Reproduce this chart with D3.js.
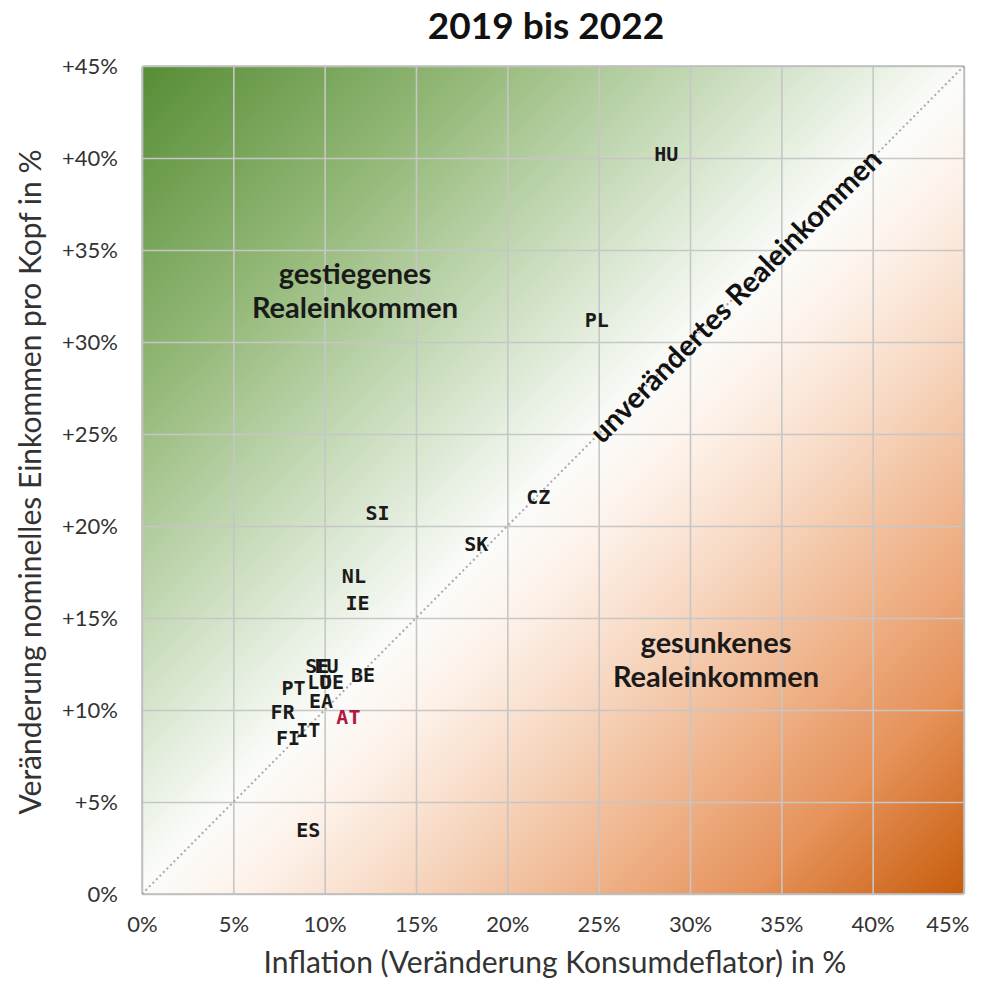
<!DOCTYPE html>
<html>
<head>
<meta charset="utf-8">
<script src="https://cdn.jsdelivr.net/npm/d3@7"></script>
<style>
  body { margin: 0; background: #fff; }
  svg { font-family: Lato, "Open Sans", sans-serif; }
  .tick text { fill: #333; font-size: 22px; }
  .lbl { font-family: "DejaVu Sans Mono", monospace; font-weight: bold; font-size: 20px; }
</style>
</head>
<body>
<svg width="989" height="981"></svg>
<script>
var countries = ["HU", "PL", "CZ", "SK", "SI", "NL", "IE", "BE", "SE", "EU", "LU", "DE", "PT", "EA", "FR", "AT", "IT", "FI", "ES"];
var inflation = [28.7, 24.9, 21.7, 18.3, 12.9, 11.6, 11.8, 12.1, 9.6, 10.1, 9.7, 10.4, 8.3, 9.8, 7.7, 11.3, 9.1, 8.0, 9.1];   //x, %
var income    = [40.2, 31.2, 21.6, 19.0, 20.7, 17.3, 15.8, 11.9, 12.4, 12.4, 11.5, 11.5, 11.2, 10.5, 9.9, 9.6, 8.9, 8.5, 3.5];   //y, %
var tickValues = [0, 5, 10, 15, 20, 25, 30, 35, 40, 45];

var svg = d3.select('svg');
var padding = {t: 66, r: 25, b: 87, l: 142};
var svgWidth = +svg.attr('width');
var svgHeight = +svg.attr('height');

var xScale = d3.scaleLinear().domain([0, 45]).range([padding.l, svgWidth - padding.r]);
var yScale = d3.scaleLinear().domain([0, 45]).range([svgHeight - padding.b, padding.t]);

//background gradient green -> white -> orange
var defs = svg.append('defs');
var grad = defs.append('linearGradient')
    .attr('id', 'bg')
    .attr('gradientUnits', 'userSpaceOnUse')
    .attr('x1', xScale(0)).attr('y1', yScale(45))
    .attr('x2', xScale(45)).attr('y2', yScale(0));
[[0, '#578d36'], [0.2, '#93b877'], [0.4, '#d8e6cf'], [0.5, '#fbfcfa'], [0.56, '#fdf2ea'], [0.64, '#f8dcc8'], [0.74, '#f1bc98'], [0.87, '#e6925a'], [1, '#c75c0c']]
    .forEach(function(s) {
        grad.append('stop').attr('offset', s[0]).attr('stop-color', s[1]);
    });

svg.append('rect')
    .attr('x', xScale(0)).attr('y', yScale(45))
    .attr('width', xScale(45) - xScale(0))
    .attr('height', yScale(0) - yScale(45))
    .attr('fill', 'url(#bg)');

//grid lines
var gridX = svg.append('g')
    .attr('transform', 'translate(0,' + yScale(0) + ')')
    .call(d3.axisBottom(xScale).tickValues(tickValues).tickSize(-(yScale(0) - yScale(45))).tickFormat(''));
var gridY = svg.append('g')
    .attr('transform', 'translate(' + xScale(0) + ',0)')
    .call(d3.axisLeft(yScale).tickValues(tickValues).tickSize(-(xScale(45) - xScale(0))).tickFormat(''));
[gridX, gridY].forEach(function(g) {
    g.select('.domain').remove();
    g.selectAll('line').attr('stroke', '#c6c6c6').attr('stroke-width', 1.6);
});

svg.append('rect')
    .attr('x', xScale(0)).attr('y', yScale(45))
    .attr('width', xScale(45) - xScale(0))
    .attr('height', yScale(0) - yScale(45))
    .attr('rx', 3)
    .attr('fill', 'none')
    .attr('stroke', '#bdbdbd')
    .attr('stroke-width', 1.5);

//tick labels
var xAxis = svg.append('g')
    .attr('transform', 'translate(0,' + yScale(0) + ')')
    .call(d3.axisBottom(xScale).tickValues(tickValues).tickSize(0).tickPadding(22).tickFormat(d => d + '%'));
var yAxis = svg.append('g')
    .attr('transform', 'translate(' + xScale(0) + ',0)')
    .call(d3.axisLeft(yScale).tickValues(tickValues).tickSize(0).tickPadding(24).tickFormat(d => d == 0 ? '0%' : '+' + d + '%'));
xAxis.select('.domain').remove();
yAxis.select('.domain').remove();
svg.selectAll('.tick text').attr('font-family', 'Lato, sans-serif');
//last x label is pulled inside the picture
xAxis.selectAll('.tick text').filter(d => d == 45).attr('text-anchor', 'end').attr('x', 5);

//diagonal: unchanged real income
svg.append('line')
    .attr('x1', xScale(0)).attr('y1', yScale(0))
    .attr('x2', xScale(45)).attr('y2', yScale(45))
    .attr('stroke', '#aaa')
    .attr('stroke-width', 2)
    .attr('stroke-dasharray', '2,3');

var angle = Math.atan2(yScale(45) - yScale(0), xScale(45) - xScale(0)) * 180 / Math.PI;
svg.append('text')
    .attr('transform', 'translate(' + [xScale(32.5), yScale(32.5)] + ') rotate(' + angle + ')')
    .attr('text-anchor', 'middle')
    .attr('dy', '0.35em')
    .attr('font-size', 29)
    .attr('font-weight', 'bold')
    .attr('fill', '#111')
    .text('unverändertes Realeinkommen');

//region labels
function regionLabel(cx, lines, y0) {
    svg.append('text')
        .attr('text-anchor', 'middle')
        .attr('font-size', 29)
        .attr('font-weight', 'bold')
        .attr('fill', '#1a1a1a')
        .selectAll('tspan').data(lines).enter()
        .append('tspan')
        .attr('x', cx)
        .attr('y', function(d, i) { return y0 + i * 34; })
        .text(function(d) { return d; });
}
regionLabel(355, ['gestiegenes', 'Realeinkommen'], 284);
regionLabel(716, ['gesunkenes', 'Realeinkommen'], 653);

//country labels
svg.append('g').selectAll('text')
    .data(countries)
    .enter()
    .append('text')
    .attr('class', 'lbl')
    .attr('x', function(d, i) { return xScale(inflation[i]); })
    .attr('y', function(d, i) { return yScale(income[i]); })
    .attr('text-anchor', 'middle')
    .attr('dominant-baseline', 'central')
    .attr('fill', function(d) { return d == 'AT' ? '#b0173f' : '#1a1a1a'; })
    .text(function(d) { return d; });

//titles
svg.append('text')
    .attr('x', 546).attr('y', 39)
    .attr('text-anchor', 'middle')
    .attr('font-size', 37)
    .attr('font-weight', 'bold')
    .attr('fill', '#111')
    .text('2019 bis 2022');

svg.append('text')
    .attr('x', 555).attr('y', 973)
    .attr('text-anchor', 'middle')
    .attr('font-size', 30)
    .attr('fill', '#333')
    .text('Inflation (Veränderung Konsumdeflator) in %');

svg.append('text')
    .attr('transform', 'translate(41,482) rotate(-90)')
    .attr('text-anchor', 'middle')
    .attr('font-size', 30)
    .attr('fill', '#333')
    .text('Veränderung nominelles Einkommen pro Kopf in %');
</script>
</body>
</html>
